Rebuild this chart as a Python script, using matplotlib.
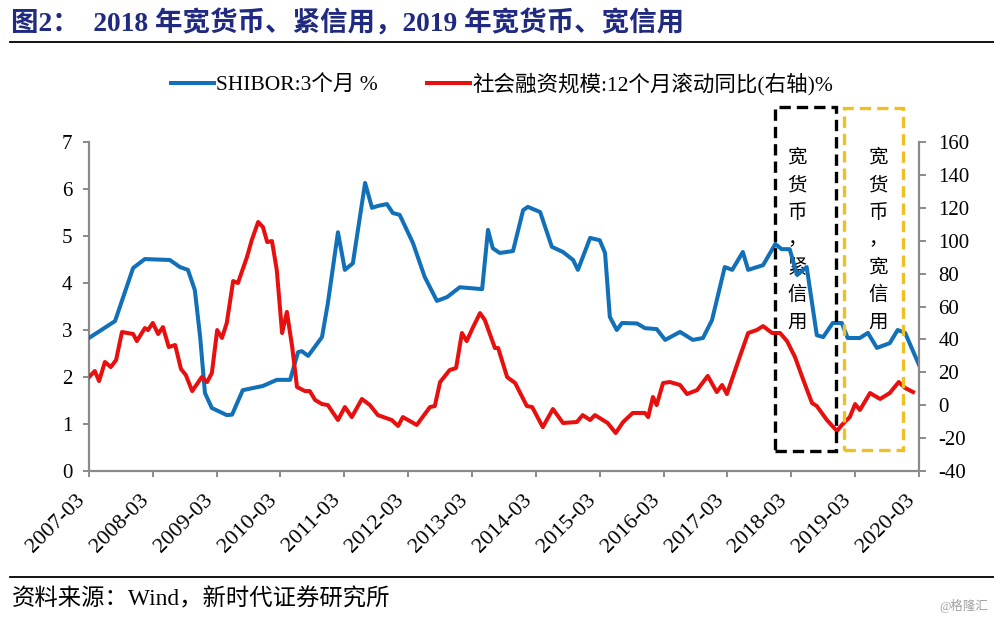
import matplotlib
matplotlib.use('Agg')
from matplotlib import pyplot as plt
from matplotlib.lines import Line2D
from matplotlib.patches import Rectangle

plt.rcParams['font.family'] = ['Liberation Serif', 'Noto Sans CJK SC']
plt.rcParams['axes.unicode_minus'] = False

# x positions are months since 2007-03
tick_labels = ['%d-03' % y for y in range(2007, 2021)]

shibor_month = [0, 4.9, 8.3, 10.5, 15.2, 17.1, 18.6, 19.9, 20.9, 21.8,
                23.1, 25.9, 26.9, 28.9, 32.7, 35.3, 37.8, 39.3, 40.0, 41.2,
                43.8, 44.9, 46.8, 48.1, 49.6, 51.9, 53.2, 54.3, 56.0, 57.1,
                58.4, 60.9, 63.1, 65.4, 67.3, 69.7, 73.9, 75.0, 75.9, 77.2,
                79.7, 81.6, 82.5, 84.8, 87.0, 89.1, 91.0, 91.9, 94.2, 96.0,
                97.0, 97.9, 99.2, 100.2, 103.0, 104.5, 106.7, 108.3, 111.1, 113.5,
                115.4, 117.1, 119.5, 120.9, 122.9, 123.9, 126.7, 129.0, 130.2, 131.7,
                133.1, 134.9, 136.8, 138.0, 139.8, 141.5, 142.6, 144.9, 146.4, 148.1,
                150.5, 152.0, 153.4, 156.0]
shibor = [2.83, 3.19, 4.32, 4.51, 4.49, 4.34, 4.28, 3.85, 2.85, 1.66,
          1.34, 1.19, 1.20, 1.72, 1.81, 1.94, 1.94, 2.53, 2.55, 2.45,
          2.85, 3.57, 5.08, 4.28, 4.42, 6.13, 5.60, 5.64, 5.68, 5.49,
          5.45, 4.85, 4.13, 3.62, 3.70, 3.91, 3.87, 5.13, 4.74, 4.64,
          4.68, 5.55, 5.62, 5.51, 4.77, 4.66, 4.49, 4.28, 4.96, 4.91,
          4.64, 3.28, 3.00, 3.15, 3.14, 3.04, 3.02, 2.79, 2.96, 2.79,
          2.83, 3.21, 4.34, 4.28, 4.66, 4.28, 4.38, 4.83, 4.72, 4.72,
          4.17, 4.34, 2.89, 2.85, 3.15, 3.15, 2.83, 2.83, 2.94, 2.62,
          2.72, 3.00, 2.94, 2.26]

tsf_month = [0, 1.1, 1.9, 3.0, 4.1, 5.1, 6.2, 8.3, 9.0, 10.5,
             11.1, 12.0, 13.0, 13.9, 15.0, 16.2, 17.3, 18.2, 19.4, 21.2,
             22.2, 23.1, 24.1, 25.0, 25.9, 27.1, 28.0, 29.7, 30.6, 31.8,
             32.7, 33.5, 34.4, 35.3, 36.3, 37.2, 38.2, 39.1, 40.6, 41.5,
             42.5, 43.8, 44.9, 46.8, 48.1, 49.4, 51.3, 52.8, 54.3, 56.9,
             58.1, 59.0, 61.6, 64.1, 65.0, 66.0, 67.8, 69.0, 70.1, 71.0,
             72.2, 73.5, 74.4, 76.3, 76.9, 78.6, 80.1, 82.3, 83.3, 85.3,
             87.2, 89.1, 91.7, 92.8, 94.2, 95.1, 97.5, 99.0, 100.4, 102.2,
             104.5, 105.1, 106.0, 106.7, 107.9, 109.2, 111.1, 112.4, 114.3, 116.3,
             118.0, 119.0, 119.9, 122.3, 123.9, 125.5, 126.7, 128.4, 129.9, 131.2,
             132.7, 134.2, 135.9, 136.8, 138.7, 140.6, 141.5, 143.0, 144.0, 144.9,
             146.8, 148.7, 150.5, 152.2, 153.4, 154.9]
tsf_yoy = [17.1, 20.8, 14.7, 26.3, 23.2, 27.5, 44.5, 43.3, 39.0, 46.9,
           45.7, 50.0, 43.3, 47.5, 35.4, 36.6, 22.0, 18.4, 8.6, 17.1,
           14.1, 19.6, 45.7, 40.9, 50.0, 75.5, 74.3, 90.1, 100.4, 111.4,
           108.3, 99.2, 99.8, 82.2, 43.9, 56.7, 35.4, 11.1, 8.6, 8.6,
           3.2, 0.7, 0.1, -9.0, -1.1, -7.2, 3.8, 0.1, -6.0, -9.0,
           -12.6, -7.2, -12.0, -1.1, -0.5, 14.1, 21.4, 22.6, 43.9, 39.0,
           47.5, 56.0, 51.8, 34.8, 34.8, 17.1, 13.5, -0.5, -1.1, -13.3,
           -2.3, -10.8, -10.2, -6.0, -9.0, -6.0, -10.8, -16.9, -10.2, -4.7,
           -4.7, -7.2, 5.0, 0.1, 13.5, 14.1, 12.3, 6.8, 9.2, 17.8,
           8.0, 12.3, 6.8, 29.3, 43.9, 45.7, 48.1, 43.9, 43.9, 39.0,
           29.3, 15.9, 1.3, -0.5, -9.0, -15.7, -12.0, -7.2, 0.7, -2.9,
           7.4, 3.8, 7.4, 14.1, 10.5, 8.0]

blue = '#1170b8'
red = '#e8100f'
gray = '#8a8a8a'

fig = plt.figure(figsize=(9.94, 6.21), dpi=100)
ax = fig.add_axes([0.0895, 0.2415, 0.835, 0.5298])
ax2 = ax.twinx()

ax.plot(shibor_month, shibor, color=blue, lw=2.9, solid_joinstyle='round',
        zorder=3, label='SHIBOR:3个月 %')
ax2.plot(tsf_month, tsf_yoy, color=red, lw=2.9, solid_joinstyle='round',
         label='社会融资规模:12个月滚动同比(右轴)%')

ax.set_xlim(0, 156)
ax.set_ylim(0, 7)
ax2.set_ylim(-40, 160)
ax.set_xticks(range(0, 157, 12))
ax.set_xticklabels(tick_labels, rotation=45, ha='right', fontsize=16)
ax.set_yticks(range(0, 8))
ax2.set_yticks(range(-40, 161, 20))

for a in (ax, ax2):
    a.spines['top'].set_visible(False)
    for s in ('left', 'right', 'bottom'):
        a.spines[s].set_color(gray)
        a.spines[s].set_linewidth(1.6)
    a.set_facecolor('none')
ax.spines['right'].set_visible(False)
ax2.spines['left'].set_visible(False)
ax2.spines['bottom'].set_visible(False)

ax.tick_params(axis='y', direction='out', length=4, width=1.4, color=gray,
               labelsize=15, pad=8)
ax.tick_params(axis='x', direction='out', length=4, width=1.4, color=gray, pad=10)
ax2.tick_params(axis='y', direction='out', length=5, width=1.4, color=gray,
                labelsize=15, pad=9)

# boxes: (x0, x1, y0, y1) in months / left-axis units
box_black = (128.9, 140.4, 0.43, 7.74)
box_yellow = (141.9, 153.0, 0.45, 7.72)
for (x0, x1, y0, y1), c in ((box_black, 'black'), (box_yellow, '#f0c023')):
    r = Rectangle((x0, y0), x1 - x0, y1 - y0, transform=ax.transData,
                  fill=False, edgecolor=c, lw=2.4, linestyle=(0, (3.4, 1.8)),
                  clip_on=False, zorder=5)
    ax2.add_patch(r)

for label, xc in (('宽货币，紧信用', 133.1), ('宽货币，宽信用', 148.3)):
    for i, ch in enumerate(label):
        y = (471 - (157 + 27.5 * i)) / 47.0
        ax.text(xc, y, ch, fontsize=14, ha='center', va='center',
                family=['Noto Sans CJK SC'], clip_on=False, zorder=1)

h1, l1 = ax.get_legend_handles_labels()
h2, l2 = ax2.get_legend_handles_labels()
fig.legend(h1 + h2, l1 + l2, loc='center', bbox_to_anchor=(0.505, 0.865),
           ncol=2, frameon=False, fontsize=15.5, handlelength=2.0,
           handletextpad=0.1, columnspacing=2.3)

fig.text(0.011, 0.961, '图2：  2018 年宽货币、紧信用，2019 年宽货币、宽信用',
         fontsize=19.8, fontweight='bold', color='#1f2a80', va='center', ha='left')
fig.add_artist(Line2D([0.01, 1.0], [0.9324, 0.9324], color='black', lw=1.3))
fig.add_artist(Line2D([0.01, 1.0], [0.0709, 0.0709], color='black', lw=1.3))
fig.text(0.012, 0.035, '资料来源：Wind，新时代证券研究所', fontsize=16.8,
         va='center', ha='left')
fig.text(0.994, 0.024, '@格隆汇', fontsize=9, color='#a0a0a0',
         va='center', ha='right')

fig.savefig('out.png', dpi=100)
